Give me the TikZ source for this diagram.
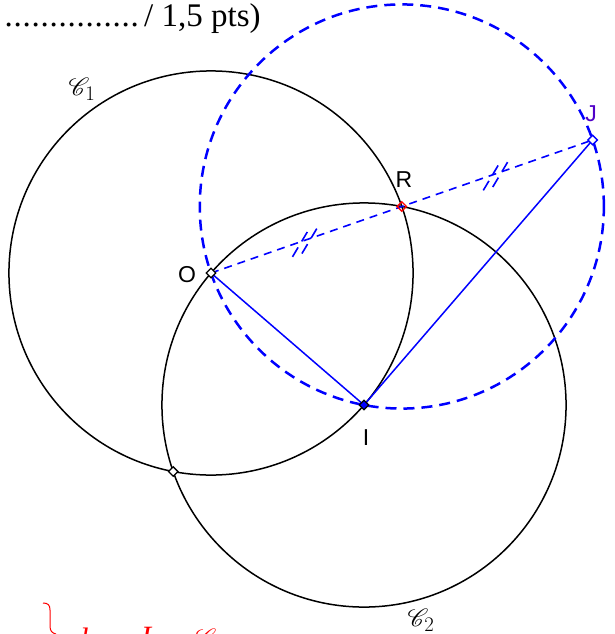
\documentclass[tikz,border=0pt]{standalone}
\usepackage{fontspec}
\usepackage{mathrsfs}
\setmainfont{Liberation Serif}
\newfontfamily\labfont{Liberation Sans}
\usetikzlibrary{calc,shapes.geometric}
\definecolor{jcol}{RGB}{80,0,200}
\begin{document}
\begin{tikzpicture}[x=1pt,y=-1pt,
  circ/.style={line width=1.5pt},
  bl/.style={blue,line width=1.5pt},
  bldash/.style={blue,line width=1.6pt,dash pattern=on 8pt off 6pt},
  tickdash/.style={blue,line width=1.6pt,dash pattern=on 11pt off 7pt},
  bigdash/.style={blue,line width=2.5pt,dash pattern=on 11pt off 7pt},
  mk/.style={diamond,draw,line width=1.3pt,inner sep=0pt,minimum size=10pt},
  lbl/.style={font=\labfont\fontsize{23}{23}\selectfont,inner sep=0pt},
  cal/.style={inner sep=0pt,font=\fontsize{30}{30}\selectfont},
  redtxt/.style={red,inner sep=0pt,anchor=north,font=\fontsize{31}{31}\selectfont\itshape},
  ]
\useasboundingbox (0,0) rectangle (614,634);
\clip (0,0) rectangle (614,634);
\coordinate (O) at (211,273);
\coordinate (I) at (364,405);
\coordinate (R) at ($(O)!1!60:(I)$);
\coordinate (J) at ($(O)!2!(R)$);
\coordinate (P) at ($(O)!1!-60:(I)$);
% circles
\draw[circ] let \p1=($(I)-(O)$) in (O) circle ({veclen(\x1,\y1)});
\draw[circ] let \p1=($(I)-(O)$) in (I) circle ({veclen(\x1,\y1)});
\draw[bigdash] let \p1=($(O)-(R)$) in (R) circle ({veclen(\x1,\y1)});
% segments
\draw[bl] (O) -- (I) -- (J);
\draw[bldash] (O) -- (J);
% tick marks
\coordinate (M1) at ($(O)!0.5!(R)$);
\coordinate (M2) at ($(R)!0.5!(J)$);
\foreach \m/\e in {M1/R,M2/J}{
  \foreach \s in {-5,5}{
    \coordinate (A) at ($(\m)!\s pt!(\e)$);
    \draw[tickdash] ($(A)!18pt!-140:(\e)$) -- ($(A)!18pt!40:(\e)$);
  }
}
% markers
\node[mk,fill=white] (mO) at (O) {};
\node[mk,draw=black,fill=blue] (mI) at (I) {};
\node[mk,draw=red] (mR) at (R) {};
\node[mk,draw=blue,fill=white] (mJ) at (J) {};
\node[mk,fill=white] (mP) at (P) {};
% labels
\node[lbl] (lO) at (187,275) {O};
\node[lbl] (lI) at (366,438) {I};
\node[lbl] (lR) at (404,180) {R};
\node[lbl,text=jcol] (lJ) at (591,114) {J};
\node[cal] (c1) at (82,89) {$\mathscr{C}_1$};
\node[cal] (c2) at (421,620) {$\mathscr{C}_2$};
% top text
\node[anchor=base west,inner sep=0pt,font=\fontsize{33}{33}\selectfont] (top) at (4,27)
  {\hbox to 135pt{\cleaders\hbox to 9pt{\hss.\hss}\hfill}\hspace{5pt}/ 1,5 pts)};
% bottom red text (cut off as in the reference)
\draw[red,line width=1pt] (43,603) .. controls (48,603) and (50,605) .. (50,610) -- (50,626) .. controls (50,631) and (52,633) .. (56,634);
\node[redtxt] (rd) at (80,628) {d};
\node[redtxt] (rI) at (146,627) {I};
\node[redtxt,font=\fontsize{31}{31}\selectfont] (rC) at (206,629) {$\mathscr{C}$};
\end{tikzpicture}
\end{document}
